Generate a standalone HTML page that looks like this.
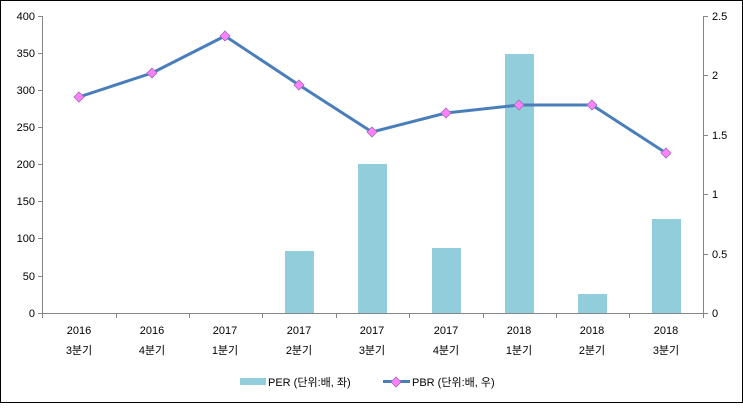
<!DOCTYPE html>
<html><head><meta charset="utf-8"><style>
html,body{margin:0;padding:0;background:#fff;}
text{font-family:"Liberation Sans","Noto Sans CJK KR",sans-serif;font-size:11px;fill:#000;}
</style></head><body>
<svg width="743" height="403" xmlns="http://www.w3.org/2000/svg">
<rect x="0.5" y="0.5" width="742" height="402" fill="#fff" stroke="#000"/>
<g stroke="#868686" stroke-width="1">
<line x1="42.5" y1="16" x2="42.5" y2="313"/>
<line x1="703.5" y1="16" x2="703.5" y2="313"/>
<line x1="42" y1="313.5" x2="704" y2="313.5"/>
<!-- left ticks -->
<line x1="38" y1="16.5" x2="42" y2="16.5"/><line x1="38" y1="53.5" x2="42" y2="53.5"/>
<line x1="38" y1="90.5" x2="42" y2="90.5"/><line x1="38" y1="127.5" x2="42" y2="127.5"/>
<line x1="38" y1="164.5" x2="42" y2="164.5"/><line x1="38" y1="201.5" x2="42" y2="201.5"/>
<line x1="38" y1="238.5" x2="42" y2="238.5"/><line x1="38" y1="276.5" x2="42" y2="276.5"/>
<line x1="38" y1="313.5" x2="42" y2="313.5"/>
<!-- right ticks -->
<line x1="703" y1="16.5" x2="708" y2="16.5"/><line x1="703" y1="75.5" x2="708" y2="75.5"/>
<line x1="703" y1="135.5" x2="708" y2="135.5"/><line x1="703" y1="194.5" x2="708" y2="194.5"/>
<line x1="703" y1="254.5" x2="708" y2="254.5"/><line x1="703" y1="313.5" x2="708" y2="313.5"/>
<!-- x ticks -->
<line x1="42.5" y1="313" x2="42.5" y2="318"/><line x1="116.5" y1="313" x2="116.5" y2="318"/>
<line x1="189.5" y1="313" x2="189.5" y2="318"/><line x1="262.5" y1="313" x2="262.5" y2="318"/>
<line x1="336.5" y1="313" x2="336.5" y2="318"/><line x1="409.5" y1="313" x2="409.5" y2="318"/>
<line x1="483.5" y1="313" x2="483.5" y2="318"/><line x1="556.5" y1="313" x2="556.5" y2="318"/>
<line x1="629.5" y1="313" x2="629.5" y2="318"/><line x1="703.5" y1="313" x2="703.5" y2="318"/>
</g>
<g text-anchor="end">
<text x="35" y="20">400</text><text x="35" y="57">350</text><text x="35" y="94">300</text>
<text x="35" y="131">250</text><text x="35" y="168">200</text><text x="35" y="205">150</text>
<text x="35" y="242">100</text><text x="35" y="280">50</text><text x="35" y="317">0</text>
</g>
<g>
<text x="712" y="20">2.5</text><text x="712" y="79">2</text><text x="712" y="139">1.5</text>
<text x="712" y="198">1</text><text x="712" y="258">0.5</text><text x="712" y="317">0</text>
</g>
<g fill="#92cddc">
<rect x="285" y="251" width="29" height="62"/>
<rect x="358" y="164" width="29" height="149"/>
<rect x="432" y="248" width="29" height="65"/>
<rect x="505" y="54" width="29" height="259"/>
<rect x="578" y="294" width="29" height="19"/>
<rect x="652" y="219" width="29" height="94"/>
</g>
<polyline points="79,97 152,73 225,36 299,85 372,132 446,113 519,105 592,105 666,153" fill="none" stroke="#4a7ebb" stroke-width="3" stroke-linejoin="round"/>
<g fill="#ff80ff" stroke="#9a6fb0" stroke-width="0.8">
<path d="M79,92 l5,5 -5,5 -5,-5z"/><path d="M152,68 l5,5 -5,5 -5,-5z"/>
<path d="M225,31 l5,5 -5,5 -5,-5z"/><path d="M299,80 l5,5 -5,5 -5,-5z"/>
<path d="M372,127 l5,5 -5,5 -5,-5z"/><path d="M446,108 l5,5 -5,5 -5,-5z"/>
<path d="M519,100 l5,5 -5,5 -5,-5z"/><path d="M592,100 l5,5 -5,5 -5,-5z"/>
<path d="M666,148 l5,5 -5,5 -5,-5z"/>
</g>
<g text-anchor="middle">
<text x="79" y="334">2016</text><text x="79" y="354">3분기</text>
<text x="152" y="334">2016</text><text x="152" y="354">4분기</text>
<text x="225" y="334">2017</text><text x="225" y="354">1분기</text>
<text x="299" y="334">2017</text><text x="299" y="354">2분기</text>
<text x="372" y="334">2017</text><text x="372" y="354">3분기</text>
<text x="446" y="334">2017</text><text x="446" y="354">4분기</text>
<text x="519" y="334">2018</text><text x="519" y="354">1분기</text>
<text x="592" y="334">2018</text><text x="592" y="354">2분기</text>
<text x="666" y="334">2018</text><text x="666" y="354">3분기</text>
</g>
<rect x="240" y="378" width="26" height="7" fill="#92cddc"/>
<text x="268" y="386">PER (단위:배, 좌)</text>
<line x1="383" y1="381.5" x2="410" y2="381.5" stroke="#4a7ebb" stroke-width="3"/>
<path d="M396,377 l5,5 -5,5 -5,-5z" fill="#ff80ff" stroke="#9a6fb0" stroke-width="0.8"/>
<text x="412" y="386">PBR (단위:배, 우)</text>
</svg>
</body></html>
